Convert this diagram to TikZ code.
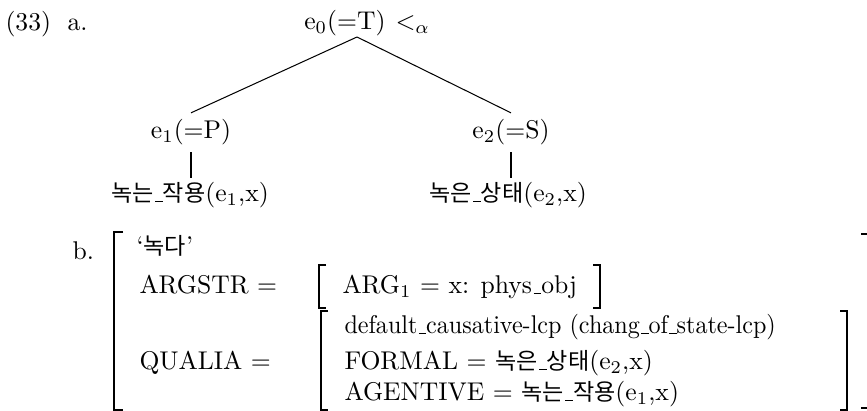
\documentclass[tikz,border=0pt]{standalone}
\usepackage{fontspec}
\newfontfamily\kor[Scale=0.9]{Noto Sans CJK KR}
\newcommand\uscore{\leavevmode\kern.06em\vbox{\hrule width.3em}}
\begin{document}
\begin{tikzpicture}[x=0.39pt,y=-0.39pt,
    txt/.style={anchor=base west,inner sep=0pt},
    ev/.style={anchor=base,inner sep=2.5pt},
    pred/.style={anchor=base,inner sep=1.5pt,text height=7.5pt,text depth=2.5pt},
    brk/.style={line width=0.6pt}]
    \useasboundingbox (0,0) rectangle (867,411);

    % (a) the event tree
    \node[txt] (num) at (5,31) {(33)};
    \node[txt] (la) at (67,31) {a.};
    \node[ev] (top) at (345,30) {e$_0$(=T)};
    \node[txt] (prec) at (395,30) {$<_\alpha$};
    \coordinate (apex) at (357,37);
    \node[ev] (e1) at (191,139) {e$_1$(=P)};
    \node[ev] (e2) at (511,139) {e$_2$(=S)};
    \node[pred] (p1) at (190,202) {{\kor 녹는}\uscore{\kor 작용}(e$_1$,x)};
    \node[pred] (p2) at (508,202) {{\kor 녹은}\uscore{\kor 상태}(e$_2$,x)};

    \draw (apex) -- (e1.north);
    \draw (apex) -- (e2.north);
    \draw (e1.south) -- (e1.south |- p1.north);
    \draw (e2.south) -- (e2.south |- p2.north);

    % (b) the lexical entry
    \node[txt] (lb) at (72,260) {b.};
    \node[txt] (lex) at (136,255) {`{\kor 녹다}'};
    \node[txt] (argstr) at (139,294) {ARGSTR =};
    \node[txt] (arg1) at (342,294) {ARG$_1$ $=$ x: phys\uscore obj};
    \node[txt] (qualia) at (139,370) {QUALIA =};
    \node[txt] (dflt) at (344,334) {\scalebox{0.94}[1]{default\uscore causative-lcp (chang\uscore of\uscore state-lcp)}};
    \node[txt] (formal) at (344,370) {FORMAL $=$ {\kor 녹은}\uscore{\kor 상태}(e$_2$,x)};
    \node[txt] (agent) at (344,401) {AGENTIVE $=$ {\kor 녹는}\uscore{\kor 작용}(e$_1$,x)};

    % brackets (the outer right one runs off the page)
    \draw[brk] (123,232) -- (114,232) -- (114,410) -- (123,410);
    \draw[brk] (861,234) -- (875,234) -- (875,408) -- (861,408);
    \draw[brk] (326,265) -- (319,265) -- (319,308) -- (326,308);
    \draw[brk] (593,265) -- (600,265) -- (600,308) -- (593,308);
    \draw[brk] (328,311) -- (321,311) -- (321,410) -- (328,410);
    \draw[brk] (840,311) -- (847,311) -- (847,410) -- (840,410);
\end{tikzpicture}
\end{document}
